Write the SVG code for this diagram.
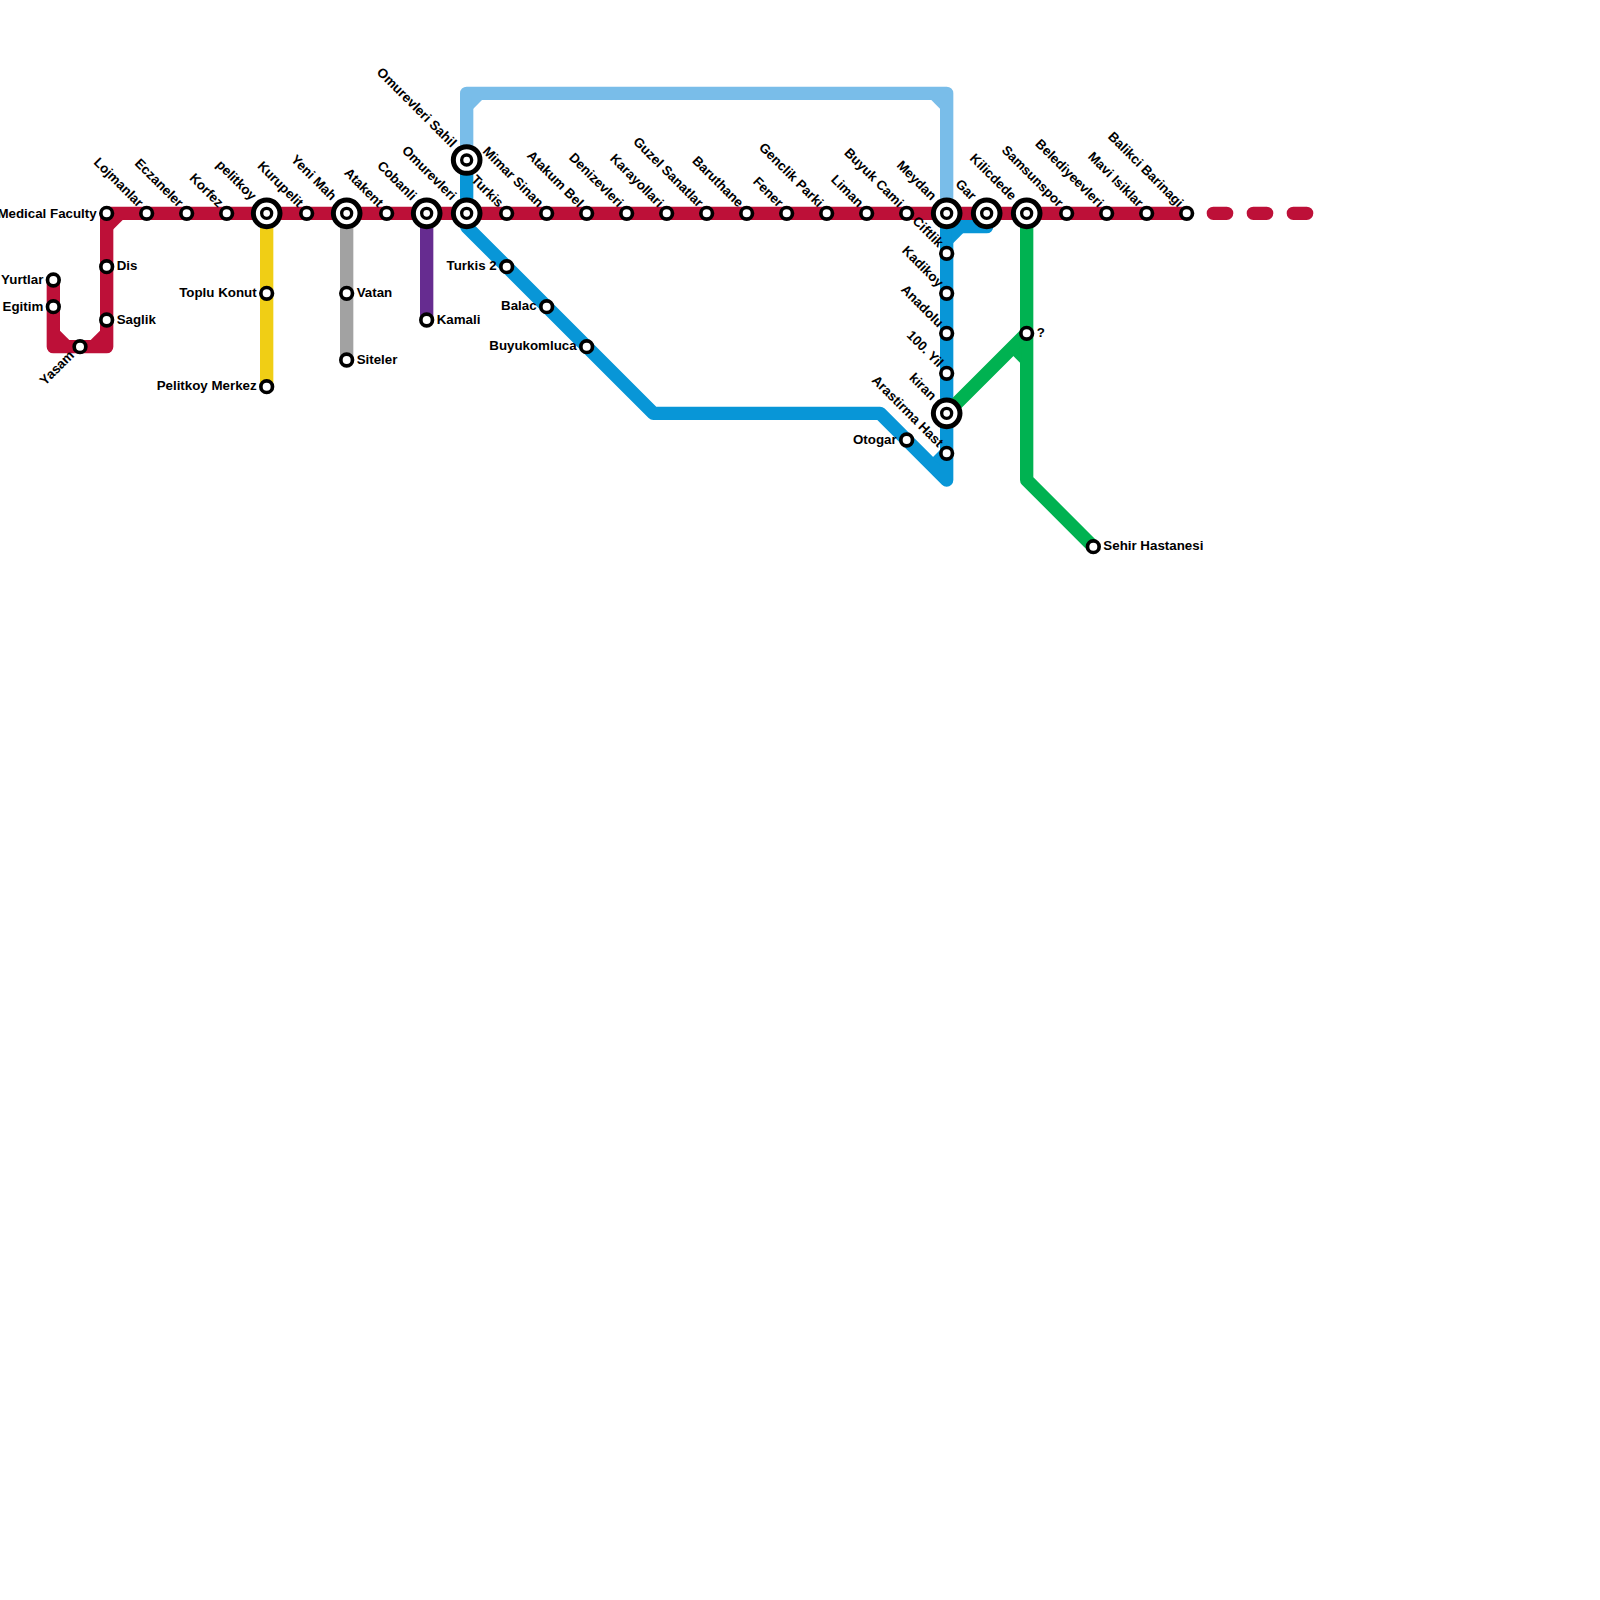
<svg xmlns="http://www.w3.org/2000/svg" width="1600" height="1600" viewBox="0 0 1600 1600">
<style>
.l{fill:none;stroke-width:13.33;stroke-linecap:round;stroke-linejoin:round}
.red{stroke:#bd1038}.blue{stroke:#0896d7}.sky{stroke:#79bde9}.yellow{stroke:#f0ce15}.gray{stroke:#a2a2a2}.purple{stroke:#662c90}.green{stroke:#00b251}
.s{fill:#fff;stroke:#000;stroke-width:3.67}
.o{fill:#fff;stroke:#000;stroke-width:5}
.i{fill:#fff;stroke:#000;stroke-width:3.33}
text{font-family:"Liberation Sans",Arial,sans-serif;font-size:13.33px;font-weight:bold;fill:#000}
.e{text-anchor:end}
</style>
<rect width="1600" height="1600" fill="#fff"/>
<g id="connectors">
<path class="l sky" d="M466.67 160V93.33H946.67V213.33"/>
<polygon fill="#79bde9" points="471.33,98 484,98 471.33,110.7"/>
<polygon fill="#79bde9" points="942,98 929.3,98 942,110.7"/>
<path class="l blue" d="M466.67 160V226.67L653.33 413.33H880L946.67 480V226.67H986.67"/>
<polygon fill="#0896d7" points="951.33,231.33 965,231.33 951.33,245"/>
<polygon fill="#0896d7" points="941.5,448.5 941.5,466 932,458"/>
<path class="l yellow" d="M266.67 213.33V386.67"/>
<path class="l gray" d="M346.67 213.33V360"/>
<path class="l purple" d="M426.67 213.33V320"/>
<path class="l green" d="M1026.67 213.33V480L1093.33 546.67"/>
<path class="l green" d="M1026.67 333.33L946.67 413.33"/>
<polygon fill="#00b251" points="1021.5,346 1012,355 1013.3,356 1020,362.7 1021.5,362.7"/>
<path class="l red" d="M53.33 280V346.67H106.67V213.33H1186.67"/>
<polygon fill="#bd1038" points="111.33,218 124.7,218 111.33,231.3"/>
<polygon fill="#bd1038" points="58,342 71.3,342 58,328.7"/>
<polygon fill="#bd1038" points="102,342 88.7,342 102,328.7"/>
<path class="l red" d="M1213.33 213.33H1226.67M1253.33 213.33H1266.67M1293.33 213.33H1306.67"/>
</g>
<g id="n-medical-faculty"><circle class="s" cx="106.67" cy="213.33" r="5.83"/><text class="e" x="96.67" y="217.8">Medical Faculty</text></g>
<g id="n-lojmanlar"><circle class="s" cx="146.67" cy="213.33" r="5.83"/><text class="e" transform="translate(138,208) rotate(45)">Lojmanlar</text></g>
<g id="n-eczaneler"><circle class="s" cx="186.67" cy="213.33" r="5.83"/><text class="e" transform="translate(178,208) rotate(45)">Eczaneler</text></g>
<g id="n-korfez"><circle class="s" cx="226.67" cy="213.33" r="5.83"/><text class="e" transform="translate(218,208) rotate(45)">Korfez</text></g>
<g id="n-pelitkoy"><circle class="o" cx="266.67" cy="213.33" r="13.33"/><circle class="i" cx="266.67" cy="213.33" r="5"/><text class="e" transform="translate(251,201) rotate(45)">pelitkoy</text></g>
<g id="n-kurupelit"><circle class="s" cx="306.67" cy="213.33" r="5.83"/><text class="e" transform="translate(298,208) rotate(45)">Kurupelit</text></g>
<g id="n-yeni-mah"><circle class="o" cx="346.67" cy="213.33" r="13.33"/><circle class="i" cx="346.67" cy="213.33" r="5"/><text class="e" transform="translate(331,201) rotate(45)">Yeni Mah</text></g>
<g id="n-atakent"><circle class="s" cx="386.67" cy="213.33" r="5.83"/><text class="e" transform="translate(378,208) rotate(45)">Atakent</text></g>
<g id="n-cobanli"><circle class="o" cx="426.67" cy="213.33" r="13.33"/><circle class="i" cx="426.67" cy="213.33" r="5"/><text class="e" transform="translate(411,201) rotate(45)">Cobanli</text></g>
<g id="n-omurevleri"><circle class="o" cx="466.67" cy="213.33" r="13.33"/><circle class="i" cx="466.67" cy="213.33" r="5"/><text class="e" transform="translate(451,201) rotate(45)">Omurevleri</text></g>
<g id="n-turkis"><circle class="s" cx="506.67" cy="213.33" r="5.83"/><text class="e" transform="translate(498,208) rotate(45)">Turkis</text></g>
<g id="n-mimar-sinan"><circle class="s" cx="546.67" cy="213.33" r="5.83"/><text class="e" transform="translate(538,208) rotate(45)">Mimar Sinan</text></g>
<g id="n-atakum-bel"><circle class="s" cx="586.67" cy="213.33" r="5.83"/><text class="e" transform="translate(578,208) rotate(45)">Atakum Bel</text></g>
<g id="n-denizevleri"><circle class="s" cx="626.67" cy="213.33" r="5.83"/><text class="e" transform="translate(618,208) rotate(45)">Denizevleri</text></g>
<g id="n-karayollari"><circle class="s" cx="666.67" cy="213.33" r="5.83"/><text class="e" transform="translate(658,208) rotate(45)">Karayollari</text></g>
<g id="n-guzel-sanatlar"><circle class="s" cx="706.67" cy="213.33" r="5.83"/><text class="e" transform="translate(698,208) rotate(45)">Guzel Sanatlar</text></g>
<g id="n-baruthane"><circle class="s" cx="746.67" cy="213.33" r="5.83"/><text class="e" transform="translate(738,208) rotate(45)">Baruthane</text></g>
<g id="n-fener"><circle class="s" cx="786.67" cy="213.33" r="5.83"/><text class="e" transform="translate(778,208) rotate(45)">Fener</text></g>
<g id="n-genclik-parki"><circle class="s" cx="826.67" cy="213.33" r="5.83"/><text class="e" transform="translate(818,208) rotate(45)">Genclik Parki</text></g>
<g id="n-liman"><circle class="s" cx="866.67" cy="213.33" r="5.83"/><text class="e" transform="translate(858,208) rotate(45)">Liman</text></g>
<g id="n-buyuk-cami"><circle class="s" cx="906.67" cy="213.33" r="5.83"/><text class="e" transform="translate(898,208) rotate(45)">Buyuk Cami</text></g>
<g id="n-meydan"><circle class="o" cx="946.67" cy="213.33" r="13.33"/><circle class="i" cx="946.67" cy="213.33" r="5"/><text class="e" transform="translate(931,201) rotate(45)">Meydan</text></g>
<g id="n-gar"><circle class="o" cx="986.67" cy="213.33" r="13.33"/><circle class="i" cx="986.67" cy="213.33" r="5"/><text class="e" transform="translate(971,201) rotate(45)">Gar</text></g>
<g id="n-kilicdede"><circle class="o" cx="1026.67" cy="213.33" r="13.33"/><circle class="i" cx="1026.67" cy="213.33" r="5"/><text class="e" transform="translate(1011,201) rotate(45)">Kilicdede</text></g>
<g id="n-samsunspor"><circle class="s" cx="1066.67" cy="213.33" r="5.83"/><text class="e" transform="translate(1058,208) rotate(45)">Samsunspor</text></g>
<g id="n-belediyeevleri"><circle class="s" cx="1106.67" cy="213.33" r="5.83"/><text class="e" transform="translate(1098,208) rotate(45)">Belediyeevleri</text></g>
<g id="n-mavi-isiklar"><circle class="s" cx="1146.67" cy="213.33" r="5.83"/><text class="e" transform="translate(1138,208) rotate(45)">Mavi Isiklar</text></g>
<g id="n-balikci-barinagi"><circle class="s" cx="1186.67" cy="213.33" r="5.83"/><text class="e" transform="translate(1178,208) rotate(45)">Balikci Barinagi</text></g>
<g id="n-yurtlar"><circle class="s" cx="53.33" cy="280" r="5.83"/><text class="e" x="43.33" y="284">Yurtlar</text></g>
<g id="n-egitim"><circle class="s" cx="53.33" cy="306.67" r="5.83"/><text class="e" x="43.33" y="310.7">Egitim</text></g>
<g id="n-yasam"><circle class="s" cx="80" cy="346.67" r="5.83"/><text class="e" transform="translate(75,356) rotate(-45)">Yasam</text></g>
<g id="n-dis"><circle class="s" cx="106.67" cy="266.67" r="5.83"/><text x="116.67" y="270.2">Dis</text></g>
<g id="n-saglik"><circle class="s" cx="106.67" cy="320" r="5.83"/><text x="116.67" y="323.5">Saglik</text></g>
<g id="n-toplu-konut"><circle class="s" cx="266.67" cy="293.33" r="5.83"/><text class="e" x="256.67" y="297">Toplu Konut</text></g>
<g id="n-pelitkoy-merkez"><circle class="s" cx="266.67" cy="386.67" r="5.83"/><text class="e" x="256.67" y="390">Pelitkoy Merkez</text></g>
<g id="n-vatan"><circle class="s" cx="346.67" cy="293.33" r="5.83"/><text x="356.67" y="297">Vatan</text></g>
<g id="n-siteler"><circle class="s" cx="346.67" cy="360" r="5.83"/><text x="356.67" y="363.5">Siteler</text></g>
<g id="n-kamali"><circle class="s" cx="426.67" cy="320" r="5.83"/><text x="436.67" y="323.5">Kamali</text></g>
<g id="n-omurevleri-sahil"><circle class="o" cx="466.67" cy="160" r="13.33"/><circle class="i" cx="466.67" cy="160" r="5"/><text class="e" transform="translate(451,148) rotate(45)">Omurevleri Sahil</text></g>
<g id="n-turkis-2"><circle class="s" cx="506.67" cy="266.67" r="5.83"/><text class="e" x="496.67" y="270">Turkis 2</text></g>
<g id="n-balac"><circle class="s" cx="546.67" cy="306.67" r="5.83"/><text class="e" x="536.67" y="310">Balac</text></g>
<g id="n-buyukomluca"><circle class="s" cx="586.67" cy="346.67" r="5.83"/><text class="e" x="576.67" y="350">Buyukomluca</text></g>
<g id="n-otogar"><circle class="s" cx="906.67" cy="440" r="5.83"/><text class="e" x="896.67" y="443.5">Otogar</text></g>
<g id="n-ciftlik"><circle class="s" cx="946.67" cy="253.33" r="5.83"/><text class="e" transform="translate(938,248) rotate(45)">Ciftlik</text></g>
<g id="n-kadikoy"><circle class="s" cx="946.67" cy="293.33" r="5.83"/><text class="e" transform="translate(938,288) rotate(45)">Kadikoy</text></g>
<g id="n-anadolu"><circle class="s" cx="946.67" cy="333.33" r="5.83"/><text class="e" transform="translate(938,328) rotate(45)">Anadolu</text></g>
<g id="n-100-yil"><circle class="s" cx="946.67" cy="373.33" r="5.83"/><text class="e" transform="translate(938,368) rotate(45)">100. Yil</text></g>
<g id="n-kiran"><circle class="o" cx="946.67" cy="413.33" r="13.33"/><circle class="i" cx="946.67" cy="413.33" r="5"/><text class="e" transform="translate(931,401) rotate(45)">kiran</text></g>
<g id="n-arastirma-hast"><circle class="s" cx="946.67" cy="453.33" r="5.83"/><text class="e" transform="translate(938,448) rotate(45)">Arastirma Hast</text></g>
<g id="n-unknown"><circle class="s" cx="1026.67" cy="333.33" r="5.83"/><text x="1036.67" y="337">?</text></g>
<g id="n-sehir-hastanesi"><circle class="s" cx="1093.33" cy="546.67" r="5.83"/><text x="1103.33" y="550">Sehir Hastanesi</text></g>
</svg>
